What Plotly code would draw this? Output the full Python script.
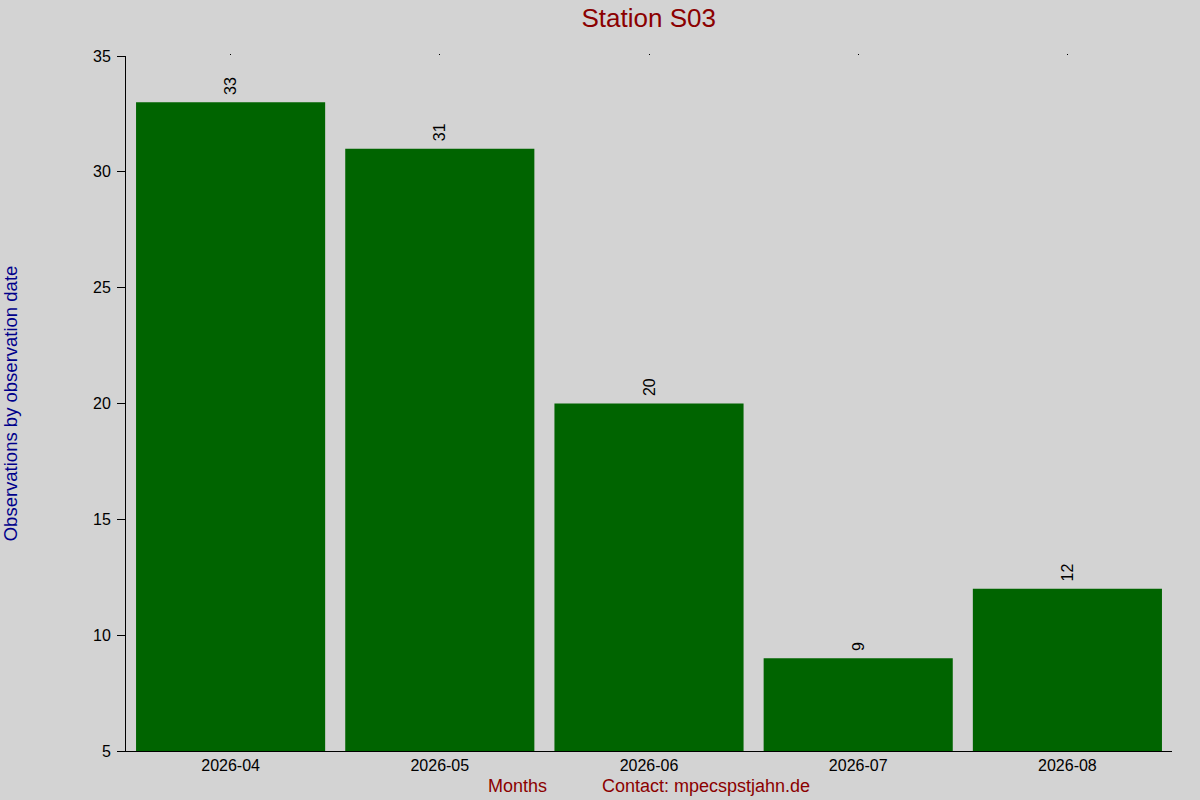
import plotly.graph_objects as go

months = ["2026-04", "2026-05", "2026-06", "2026-07", "2026-08"]
counts = [33, 31, 20, 9, 12]

BG = "#d3d3d3"

fig = go.Figure()
fig.add_trace(
    go.Bar(
        x=months, y=counts,
        marker=dict(color="#006400", line=dict(width=0)),
        text=["\u00a0" + str(c) for c in counts],
        textposition="outside",
        textangle=-90,
        textfont=dict(family="Liberation Sans, Arial", size=16, color="#000"),
        cliponaxis=False,
        hoverinfo="x+y",
    )
)
# invisible copy on a top axis, only so its tiny tick dots get drawn
fig.add_trace(
    go.Bar(
        x=months, y=counts, xaxis="x2",
        marker=dict(opacity=0, line=dict(width=0)),
        hoverinfo="skip",
    )
)

fig.update_layout(
    width=1200, height=800,
    paper_bgcolor=BG, plot_bgcolor=BG,
    font=dict(family="Liberation Sans, Arial", size=14, color="#000"),
    title=dict(
        text="Station S03", x=0.5406, xanchor="center", y=0.978, yanchor="middle",
        font=dict(size=26, color="#8b0000"),
    ),
    margin=dict(l=126, r=28, t=56, b=49),
    bargap=0.096,
    barmode="overlay",
    showlegend=False,
    xaxis=dict(
        type="category", automargin=False,
        showline=True, linecolor="#000", linewidth=1,
        ticks="", showgrid=False,
        tickfont=dict(size=16),
        title=dict(
            text="Months" + "\u00a0" * 11 + "Contact: mpecspstjahn.de",
            font=dict(size=18, color="#8b0000"), standoff=6,
        ),
    ),
    xaxis2=dict(
        overlaying="x", matches="x", side="top", type="category",
        automargin=False,
        showline=False, showgrid=False, showticklabels=False,
        ticks="outside", ticklen=1, tickwidth=1, tickcolor="#000",
    ),
)
fig.update_yaxes(
    range=[5, 35], dtick=5, tick0=5, automargin=False,
    showline=True, linecolor="#000", linewidth=1,
    ticks="outside", ticklen=8, tickcolor="#000",
    ticklabelstandoff=3,
    showgrid=False, zeroline=False,
    tickfont=dict(size=16),
    title=dict(
        text="Observations by observation date",
        font=dict(size=18.5, color="#00008b"), standoff=72,
    ),
)

fig.write_html(
    "out.html",
    config={"displayModeBar": False},
    post_script="document.body.style.margin='0';document.body.style.background='#d3d3d3';",
)
